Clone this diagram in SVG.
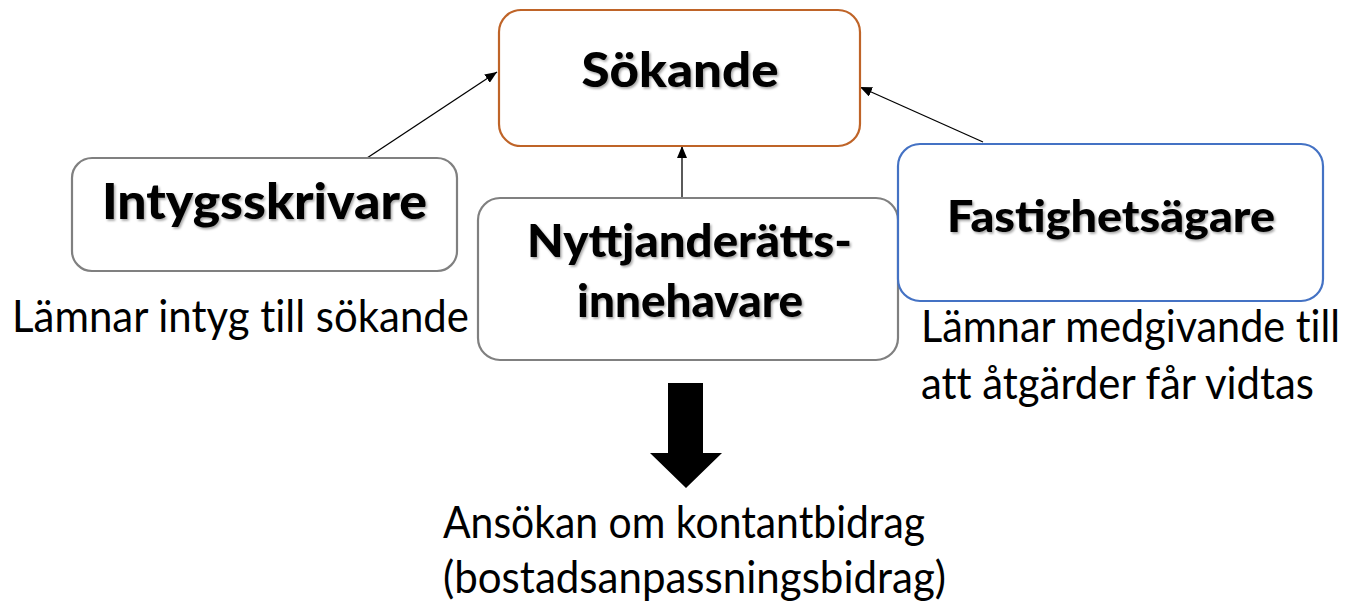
<svg xmlns="http://www.w3.org/2000/svg" width="1353" height="605" viewBox="0 0 1353 605">
<style>
  .box { fill: #ffffff; stroke-width: 2.2; }
  .title { font-family: Lato, "Open Sans", "DejaVu Sans", sans-serif; font-weight: 900; fill: #000; filter: url(#shadow); }
  .label { font-family: Lato, "Open Sans", "Liberation Sans", sans-serif; font-weight: 400; fill: #000; font-size: 44px; font-variant-ligatures: none; }
  .conn { stroke: #000; stroke-width: 1.3; fill: none; marker-end: url(#arrow); }
</style>
<defs>
  <marker id="arrow" viewBox="0 0 12 10" refX="12" refY="5" markerWidth="12" markerHeight="10" markerUnits="userSpaceOnUse" orient="auto">
    <path d="M0,0 L12,5 L0,10 Z" fill="#000"/>
  </marker>
  <filter id="shadow" x="-10%" y="-20%" width="120%" height="150%">
    <feDropShadow dx="1.5" dy="1.8" stdDeviation="1.2" flood-color="#000" flood-opacity="0.35"/>
  </filter>
</defs>
<rect width="1353" height="605" fill="#ffffff"/>

<g id="connectors">
  <line class="conn" x1="367" y1="158" x2="497" y2="72"/>
  <line class="conn" x1="682" y1="198" x2="682" y2="146"/>
  <line class="conn" x1="983" y1="142" x2="860" y2="87"/>
  <polygon points="668,383 703,383 703,453 722,453 686,488 650,453 668,453" fill="#000"/>
</g>

<g id="node-sokande">
  <rect class="box" x="499" y="10" width="361" height="136" rx="22" stroke="#BF6428"/>
  <text class="title" x="680" y="87" font-size="48" text-anchor="middle" textLength="197" lengthAdjust="spacingAndGlyphs">Sökande</text>
</g>

<g id="node-intygsskrivare">
  <rect class="box" x="72" y="158" width="385" height="113" rx="20" stroke="#808080"/>
  <text class="title" x="102" y="219" font-size="50" textLength="325" lengthAdjust="spacingAndGlyphs">Intygsskrivare</text>
</g>

<g id="node-nyttjanderatt">
  <rect class="box" x="478" y="198" width="420" height="162" rx="22" stroke="#808080"/>
  <text class="title" x="527" y="257" font-size="45" textLength="325" lengthAdjust="spacingAndGlyphs">Nyttjanderätts-</text>
  <text class="title" x="577" y="317" font-size="45" textLength="226" lengthAdjust="spacingAndGlyphs">innehavare</text>
</g>

<g id="node-fastighetsagare">
  <rect class="box" x="898" y="144" width="425" height="157" rx="22" stroke="#4472C4"/>
  <text class="title" x="947" y="232" font-size="44" textLength="328" lengthAdjust="spacingAndGlyphs">Fastighetsägare</text>
</g>

<g id="labels">
  <text class="label" x="12" y="332" textLength="457" lengthAdjust="spacingAndGlyphs">Lämnar intyg till sökande</text>
  <text class="label" x="921" y="342" font-size="41" textLength="419" lengthAdjust="spacingAndGlyphs">Lämnar medgivande till</text>
  <text class="label" x="921" y="399" font-size="41" textLength="393" lengthAdjust="spacingAndGlyphs">att åtgärder får vidtas</text>
  <text class="label" x="443" y="538" textLength="482" lengthAdjust="spacingAndGlyphs">Ansökan om kontantbidrag</text>
  <text class="label" x="443" y="593" textLength="503" lengthAdjust="spacingAndGlyphs">(bostadsanpassningsbidrag)</text>
</g>
</svg>
